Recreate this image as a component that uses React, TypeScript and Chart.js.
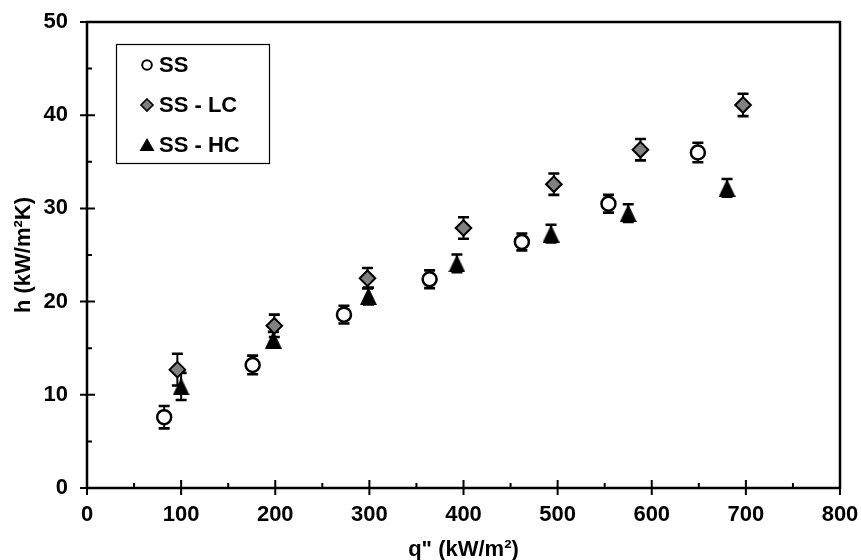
import React, { useEffect, useRef } from 'react';
import { Chart, registerables } from 'chart.js';
Chart.register(...registerables);

// ---- data ----
const seriesNames = ['SS', 'SS - LC', 'SS - HC'];
const ssX = [82, 176, 273, 364, 462, 554, 649];
const ssY = [7.6, 13.2, 18.6, 22.4, 26.4, 30.5, 36.0];
const ssErr = [1.2, 1.0, 0.95, 0.95, 0.9, 0.95, 1.05];
const lcX = [96, 199, 298, 400, 496, 588, 697];
const lcY = [12.7, 17.4, 22.5, 27.9, 32.6, 36.3, 41.1];
const lcErr = [1.7, 1.2, 1.1, 1.15, 1.15, 1.15, 1.2];
const hcX = [100, 198, 299, 393, 493, 575, 680];
const hcY = [10.9, 15.9, 20.6, 24.1, 27.3, 29.5, 32.2];
const hcErr = [1.45, 0.85, 0.9, 0.95, 0.95, 0.95, 0.95];
const xTitle = 'q" (kW/m²)';
const yTitle = 'h (kW/m²K)';
const xMin = 0, xMax = 800, xStep = 100;
const yMin = 0, yMax = 50, yStep = 10;

const FONT_FAMILY = '"Liberation Sans", Arial, sans-serif';
const FONT_SIZE = 22;

function makeTriangle(w: number, h: number) {
  const c = document.createElement('canvas');
  c.width = w;
  c.height = h;
  const g = c.getContext('2d')!;
  g.fillStyle = '#000';
  g.beginPath();
  g.moveTo(w / 2, 0);
  g.lineTo(w, h);
  g.lineTo(0, h);
  g.closePath();
  g.fill();
  return c;
}

const errorSets = [ssErr, lcErr, hcErr];

const framePlugin = {
  id: 'frameAndErrors',
  beforeDatasetsDraw(chart: any) {
    const { ctx, chartArea: a, scales } = chart;
    const xs = scales.x, ys = scales.y;
    ctx.save();
    // error bars
    ctx.strokeStyle = '#000';
    chart.data.datasets.forEach((ds: any, di: number) => {
      const errs = errorSets[di];
      ds.data.forEach((p: any, i: number) => {
        const px = xs.getPixelForValue(p.x);
        const top = ys.getPixelForValue(p.y + errs[i]);
        const bot = ys.getPixelForValue(p.y - errs[i]);
        ctx.lineWidth = 2;
        ctx.beginPath();
        ctx.moveTo(px, top);
        ctx.lineTo(px, bot);
        ctx.stroke();
        ctx.lineWidth = 2.6;
        ctx.beginPath();
        ctx.moveTo(px - 5.5, top);
        ctx.lineTo(px + 5.5, top);
        ctx.moveTo(px - 5.5, bot);
        ctx.lineTo(px + 5.5, bot);
        ctx.stroke();
      });
    });
    // frame
    ctx.lineWidth = 2.5;
    ctx.strokeRect(a.left, a.top, a.right - a.left, a.bottom - a.top);
    // ticks
    ctx.lineWidth = 2;
    ctx.beginPath();
    for (let v = xMin; v <= xMax; v += xStep) {
      const px = xs.getPixelForValue(v);
      ctx.moveTo(px, a.bottom - 8);
      ctx.lineTo(px, a.bottom + 7);
      if (v + xStep / 2 < xMax) {
        const pm = xs.getPixelForValue(v + xStep / 2);
        ctx.moveTo(pm, a.bottom - 5);
        ctx.lineTo(pm, a.bottom);
      }
    }
    for (let v = yMin; v <= yMax; v += yStep) {
      const py = ys.getPixelForValue(v);
      ctx.moveTo(a.left - 7, py);
      ctx.lineTo(a.left + 8, py);
      if (v + yStep / 2 < yMax) {
        const pm = ys.getPixelForValue(v + yStep / 2);
        ctx.moveTo(a.left, pm);
        ctx.lineTo(a.left + 5, pm);
      }
    }
    ctx.stroke();
    ctx.restore();
  },
  afterDraw(chart: any) {
    const { ctx } = chart;
    ctx.save();
    ctx.strokeStyle = '#000';
    ctx.lineWidth = 1.2;
    ctx.strokeRect(116.5, 44.5, 153, 119);
    const rowsY = [65, 105, 145];
    const mx = 147;
    // circle
    ctx.lineWidth = 2;
    ctx.fillStyle = '#fff';
    ctx.beginPath();
    ctx.arc(mx, rowsY[0], 4.8, 0, Math.PI * 2);
    ctx.fill();
    ctx.stroke();
    // diamond
    ctx.fillStyle = '#808080';
    ctx.lineWidth = 1.6;
    ctx.beginPath();
    ctx.moveTo(mx, rowsY[1] - 6);
    ctx.lineTo(mx + 6, rowsY[1]);
    ctx.lineTo(mx, rowsY[1] + 6);
    ctx.lineTo(mx - 6, rowsY[1]);
    ctx.closePath();
    ctx.fill();
    ctx.stroke();
    // triangle
    ctx.fillStyle = '#000';
    ctx.beginPath();
    ctx.moveTo(mx, rowsY[2] - 7);
    ctx.lineTo(mx + 7.5, rowsY[2] + 6);
    ctx.lineTo(mx - 7.5, rowsY[2] + 6);
    ctx.closePath();
    ctx.fill();
    ctx.font = 'bold ' + FONT_SIZE + 'px ' + FONT_FAMILY;
    ctx.textBaseline = 'middle';
    ctx.textAlign = 'left';
    ctx.fillStyle = '#000';
    seriesNames.forEach((n, i) => ctx.fillText(n, 159, rowsY[i] + 1));
    ctx.restore();
  },
};

const zeroPad = (s: any) => {
  s.paddingTop = 0;
  s.paddingBottom = 0;
  s.paddingLeft = 0;
  s.paddingRight = 0;
};

export default function App() {
  const ref = useRef<HTMLCanvasElement>(null);
  useEffect(() => {
    if (!ref.current) return;
    const tri = makeTriangle(17, 18);
    const toPts = (xs: number[], ys: number[]) => xs.map((x, i) => ({ x, y: ys[i] }));
    const chart = new Chart(ref.current, {
      type: 'scatter',
      data: {
        datasets: [
          {
            label: seriesNames[0],
            data: toPts(ssX, ssY),
            pointStyle: 'circle',
            pointRadius: 7,
            borderWidth: 2.5,
            backgroundColor: '#ffffff',
            borderColor: '#000000',
          },
          {
            label: seriesNames[1],
            data: toPts(lcX, lcY),
            pointStyle: 'rectRot',
            pointRadius: 7.8,
            borderWidth: 2,
            backgroundColor: '#808080',
            borderColor: '#000000',
          },
          {
            label: seriesNames[2],
            data: toPts(hcX, hcY),
            pointStyle: tri as any,
            pointRadius: 9,
            backgroundColor: '#000000',
            borderColor: '#000000',
          },
        ],
      },
      options: {
        animation: false,
        responsive: true,
        maintainAspectRatio: false,
        devicePixelRatio: 1,
        layout: { autoPadding: false, padding: { top: 22, right: 21, left: 0, bottom: 0 } },
        plugins: {
          legend: { display: false },
          tooltip: { enabled: false },
        },
        scales: {
          x: {
            type: 'linear',
            min: xMin,
            max: xMax,
            grid: { display: false, drawTicks: false },
            border: { display: false },
            ticks: {
              stepSize: xStep,
              padding: 14,
              color: '#000',
              font: { family: FONT_FAMILY, size: FONT_SIZE, weight: 'bold' },
              maxRotation: 0,
            },
            title: {
              display: true,
              text: xTitle,
              color: '#000',
              font: { family: FONT_FAMILY, size: FONT_SIZE, weight: 'bold', lineHeight: 1 },
              padding: { top: 0, bottom: -1 },
            },
            afterFit: (s: any) => {
              s.height = 72;
              zeroPad(s);
            },
          },
          y: {
            type: 'linear',
            min: yMin,
            max: yMax,
            grid: { display: false, drawTicks: false },
            border: { display: false },
            ticks: {
              stepSize: yStep,
              padding: 19,
              color: '#000',
              font: { family: FONT_FAMILY, size: FONT_SIZE, weight: 'bold' },
            },
            title: {
              display: true,
              text: yTitle,
              color: '#000',
              font: { family: FONT_FAMILY, size: FONT_SIZE, weight: 'bold', lineHeight: 1 },
              padding: { top: 13, bottom: 0 },
            },
            afterFit: (s: any) => {
              s.width = 87;
              zeroPad(s);
            },
          },
        },
      } as any,
      plugins: [framePlugin],
    });
    return () => chart.destroy();
  }, []);
  return (
    <div style={{ position: 'fixed', left: 0, top: 0, width: 861, height: 560, background: '#fff' }}>
      <canvas ref={ref} />
    </div>
  );
}
